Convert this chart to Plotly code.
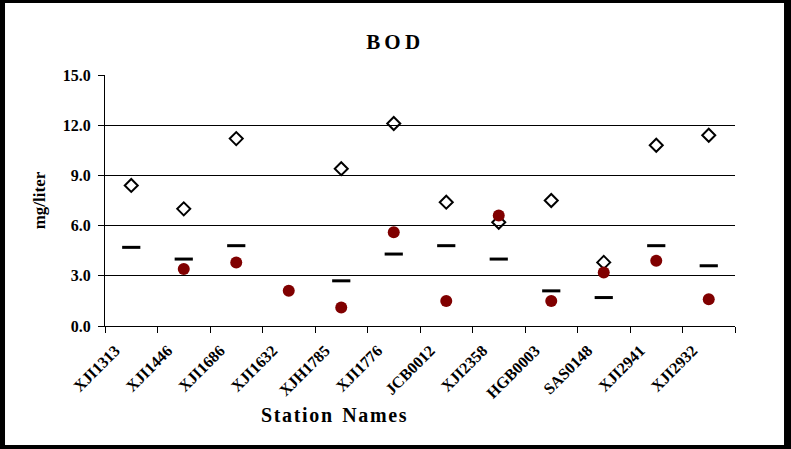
import plotly.graph_objects as go

# station names along the x axis
stations = ["XJI1313", "XJI1446", "XJI1686", "XJI1632", "XJH1785", "XJI1776",
            "JCB0012", "XJI2358", "HGB0003", "SAS0148", "XJI2941", "XJI2932"]

# BOD values, mg/liter (None = no value shown)
bod_max = [8.4, 7.0, 11.2, None, 9.4, 12.1, 7.4, 6.2, 7.5, 3.8, 10.8, 11.4]
bod_mean = [4.7, 4.0, 4.8, None, 2.7, 4.3, 4.8, 4.0, 2.1, 1.7, 4.8, 3.6]
bod_min = [None, 3.4, 3.8, 2.1, 1.1, 5.6, 1.5, 6.6, 1.5, 3.2, 3.9, 1.6]

y_ticks = [0, 3, 6, 9, 12, 15]

serif = "Liberation Serif"
hair = "\u200a"

fig = go.Figure()

fig.add_trace(go.Scatter(
    x=stations, y=bod_max, mode="markers", name="max",
    marker=dict(symbol="diamond-open", size=10, color="black", line=dict(width=2, color="black")),
))
fig.add_trace(go.Scatter(
    x=stations, y=bod_mean, mode="markers", name="mean",
    marker=dict(symbol="line-ew", size=13, color="black", line=dict(width=3, color="black")),
))
fig.add_trace(go.Scatter(
    x=stations, y=bod_min, mode="markers", name="min",
    marker=dict(symbol="circle", size=12, color="#800000", line=dict(width=0)),
))

# black frame round a white card
fig.add_shape(type="rect", xref="paper", yref="paper",
              x0=-0.1587, x1=1.0778, y0=-0.474, y1=1.287,
              fillcolor="white", line=dict(width=0), layer="below")

# x title sits left of the plot centre in the original, so use an annotation
fig.add_annotation(
    text="<b>" + hair.join("Station") + "  " + hair.join("Names") + "</b>",
    xref="paper", yref="paper", x=0.3635, y=-0.3546,
    xanchor="center", yanchor="middle", showarrow=False,
    font=dict(family=serif, size=20, color="black"),
)

fig.update_layout(
    width=791, height=449,
    paper_bgcolor="black",
    plot_bgcolor="white",
    margin=dict(l=105, r=56, t=75, b=123, autoexpand=False),
    showlegend=False,
    font=dict(family=serif, color="black"),
    title=dict(text="<b>B\u2009O\u2009D</b>", x=0.497, xanchor="center", y=0.907, yanchor="middle",
               font=dict(family=serif, size=21, color="black")),
)

fig.update_xaxes(
    type="category", range=[-0.5, 11.5], automargin=False,
    tickvals=stations, ticktext=["<b>%s</b>" % s for s in stations],
    showline=True, linecolor="black", linewidth=1,
    ticks="outside", tickson="boundaries", ticklen=6, tickcolor="black",
    tickangle=-45, ticklabelshift=-16, ticklabelstandoff=8,
    tickfont=dict(family=serif, size=16, color="black"),
    showgrid=False,
)

fig.update_yaxes(
    range=[0, 15], automargin=False,
    tickvals=y_ticks, ticktext=["<b>%.1f</b>" % v for v in y_ticks],
    showline=True, linecolor="black", linewidth=1,
    ticks="outside", ticklen=6, tickcolor="black", ticklabelstandoff=4,
    showgrid=True, gridcolor="black", gridwidth=1,
    zeroline=False,
    tickfont=dict(family=serif, size=16, color="black"),
    title=dict(text="<b>mg/liter</b>", font=dict(family=serif, size=17, color="black"), standoff=12),
)

# drop the page's default body margin so the figure sits at the window corner
fig.write_html("out.html", config={"displayModeBar": False},
               post_script="document.body.style.margin='0px';")
